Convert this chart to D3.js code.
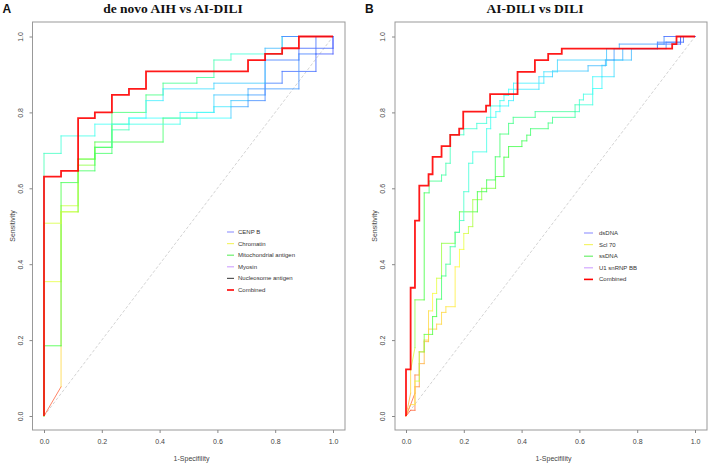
<!DOCTYPE html>
<html>
<head>
<meta charset="utf-8">
<script src="https://cdn.jsdelivr.net/npm/d3@7/dist/d3.min.js"></script>
<style>
  body { margin: 0; background: #fff; }
  text { font-family: "Liberation Sans", Arial, sans-serif; }
</style>
</head>
<body>
<svg id="chart" width="709" height="465"></svg>
<script>
// tick values shared by both axes
const tickValues = [0, 0.2, 0.4, 0.6, 0.8, 1.0];

// legend entries per panel
const legendA = ["CENP B", "Chromatin", "Mitochondrial antigen", "Myosin", "Nucleosome antigen", "Combined"];
const legendB = ["dsDNA", "Scl 70", "ssDNA", "U1 snRNP BB", "Combined"];
const legendColorsA = ["#9a9cff", "#f4f46a", "#6cf06c", "#d2a8ff", "#555555", "#ff0000"];
const legendColorsB = ["#9a9cff", "#f4f46a", "#6cf06c", "#d2a8ff", "#ff0000"];

// ROC points: [1-specificity, sensitivity, cutoff (0 = low, 1 = high)]
const aCenpB = [[0,0,1],[0.059,0.077,0.95],[0.059,0.538,0.8],[0.118,0.538,0.7],[0.118,0.677,0.62],[0.176,0.677,0.58],[0.176,0.708,0.55],[0.235,0.708,0.5],[0.235,0.769,0.45],[0.294,0.769,0.4],[0.294,0.785,0.35],[0.647,0.785,0.25],[0.647,0.815,0.18],[0.706,0.815,0.14],[0.706,0.831,0.12],[0.765,0.831,0.1],[0.765,0.877,0.09],[0.824,0.877,0.08],[0.824,0.908,0.07],[0.941,0.908,0.06],[0.941,0.954,0.05],[1,0.954,0.04],[1,1,0.02]];
const aChromatin = [[0,0,0.8],[0,0.354,0.75],[0.059,0.354,0.72],[0.059,0.554,0.7],[0.118,0.554,0.68],[0.118,0.661,0.62],[0.176,0.661,0.6],[0.176,0.722,0.55],[0.412,0.722,0.5],[0.412,0.785,0.45],[0.529,0.785,0.4],[0.529,0.8,0.35],[0.588,0.8,0.3],[0.588,0.815,0.25],[0.647,0.815,0.22],[0.647,0.831,0.2],[0.706,0.831,0.17],[0.706,0.846,0.15],[0.765,0.846,0.12],[0.765,0.938,0.1],[0.882,0.938,0.08],[0.882,0.969,0.06],[1,0.969,0.05],[1,1,0.03]];
const aMito = [[0,0,0.55],[0,0.185,0.52],[0.059,0.185,0.5],[0.059,0.615,0.5],[0.118,0.615,0.48],[0.118,0.646,0.47],[0.176,0.646,0.46],[0.176,0.692,0.45],[0.235,0.692,0.45],[0.235,0.8,0.44],[0.353,0.8,0.43],[0.353,0.846,0.42],[0.412,0.846,0.42],[0.412,0.877,0.41],[0.529,0.877,0.4],[0.529,0.892,0.4],[0.588,0.892,0.38],[0.588,0.938,0.36],[0.647,0.938,0.34],[0.647,0.954,0.32],[0.824,0.954,0.3],[0.824,1,0.28],[1,1,0.1]];
const aMyosin = [[0,0,0.75],[0,0.508,0.72],[0.059,0.508,0.7],[0.059,0.538,0.68],[0.118,0.538,0.66],[0.118,0.677,0.6],[0.176,0.677,0.55],[0.176,0.708,0.5],[0.235,0.708,0.45],[0.235,0.754,0.4],[0.294,0.754,0.35],[0.294,0.769,0.3],[0.471,0.769,0.28],[0.471,0.8,0.26],[0.588,0.8,0.24],[0.588,0.846,0.2],[0.706,0.846,0.17],[0.706,0.862,0.15],[0.882,0.862,0.12],[0.882,0.954,0.1],[0.941,0.954,0.08],[0.941,1,0.06],[1,1,0.04]];
const aNucleosome = [[0,0,0.35],[0,0.692,0.35],[0.059,0.692,0.33],[0.059,0.738,0.3],[0.176,0.738,0.28],[0.176,0.769,0.27],[0.294,0.769,0.26],[0.294,0.785,0.25],[0.353,0.785,0.25],[0.353,0.831,0.24],[0.412,0.831,0.23],[0.412,0.862,0.22],[0.588,0.862,0.21],[0.588,0.877,0.2],[0.765,0.877,0.18],[0.765,0.969,0.17],[0.824,0.969,0.16],[0.824,1,0.15],[1,1,0.1]];
const aCombined = [[0,0],[0,0.631],[0.059,0.631],[0.059,0.646],[0.118,0.646],[0.118,0.785],[0.176,0.785],[0.176,0.8],[0.235,0.8],[0.235,0.846],[0.294,0.846],[0.294,0.862],[0.353,0.862],[0.353,0.908],[0.706,0.908],[0.706,0.938],[0.765,0.938],[0.765,0.954],[0.824,0.954],[0.824,0.969],[0.882,0.969],[0.882,1],[1,1]];

const bDsDNA = [[0,0,0.9],[0.016,0.06,0.85],[0.016,0.12,0.8],[0.031,0.18,0.7],[0.031,0.306,0.6],[0.063,0.306,0.55],[0.063,0.588,0.5],[0.08,0.588,0.45],[0.08,0.619,0.42],[0.123,0.619,0.4],[0.123,0.635,0.38],[0.138,0.635,0.37],[0.138,0.666,0.36],[0.153,0.666,0.35],[0.153,0.741,0.34],[0.2,0.741,0.33],[0.2,0.757,0.32],[0.245,0.757,0.31],[0.245,0.771,0.3],[0.279,0.771,0.3],[0.279,0.787,0.29],[0.293,0.787,0.29],[0.293,0.817,0.28],[0.325,0.817,0.28],[0.325,0.831,0.27],[0.339,0.831,0.27],[0.339,0.845,0.26],[0.355,0.845,0.26],[0.355,0.861,0.25],[0.372,0.861,0.25],[0.372,0.877,0.24],[0.477,0.877,0.23],[0.477,0.907,0.22],[0.524,0.907,0.21],[0.524,0.938,0.2],[0.694,0.938,0.19],[0.694,0.968,0.17],[0.738,0.968,0.16],[0.738,0.98,0.15],[0.893,0.98,0.12],[0.893,1,0.1],[1,1,0.05]];
const bScl70 = [[0,0,1],[0.016,0.03,0.98],[0.031,0.06,0.95],[0.031,0.108,0.92],[0.046,0.108,0.9],[0.046,0.169,0.88],[0.063,0.169,0.86],[0.063,0.196,0.85],[0.078,0.196,0.84],[0.078,0.229,0.83],[0.106,0.229,0.82],[0.106,0.242,0.81],[0.123,0.242,0.8],[0.123,0.273,0.8],[0.138,0.273,0.8],[0.138,0.288,0.79],[0.17,0.288,0.78],[0.17,0.393,0.77],[0.185,0.393,0.76],[0.185,0.439,0.75],[0.2,0.439,0.74],[0.2,0.481,0.72],[0.216,0.481,0.7],[0.216,0.499,0.68],[0.231,0.499,0.66],[0.231,0.57,0.64],[0.262,0.57,0.62],[0.262,0.6,0.6],[0.31,0.6,0.58],[0.31,0.631,0.55],[0.339,0.631,0.52],[0.339,0.682,0.5],[0.355,0.682,0.5],[0.355,0.71,0.5],[0.401,0.71,0.49],[0.401,0.725,0.48],[0.418,0.725,0.47],[0.418,0.74,0.46],[0.431,0.74,0.45],[0.431,0.757,0.44],[0.492,0.757,0.43],[0.492,0.772,0.42],[0.507,0.772,0.41],[0.507,0.787,0.4],[0.585,0.787,0.38],[0.585,0.802,0.36],[0.6,0.802,0.34],[0.6,0.82,0.32],[0.646,0.82,0.3],[0.646,0.863,0.28],[0.678,0.863,0.26],[0.678,0.894,0.24],[0.72,0.894,0.22],[0.72,0.938,0.2],[0.78,0.938,0.18],[0.78,0.968,0.16],[0.9,0.968,0.12],[0.9,0.985,0.1],[0.96,0.985,0.08],[0.96,1,0.05],[1,1,0.03]];
const bSsDNA = [[0,0,1],[0.016,0.015,0.98],[0.031,0.015,0.95],[0.031,0.077,0.92],[0.046,0.077,0.9],[0.046,0.138,0.88],[0.063,0.138,0.86],[0.063,0.2,0.84],[0.078,0.2,0.82],[0.078,0.277,0.8],[0.092,0.277,0.78],[0.092,0.323,0.76],[0.106,0.323,0.74],[0.106,0.363,0.72],[0.123,0.363,0.68],[0.123,0.455,0.62],[0.17,0.455,0.6],[0.17,0.484,0.58],[0.185,0.484,0.56],[0.185,0.538,0.54],[0.247,0.538,0.52],[0.247,0.591,0.5],[0.279,0.591,0.49],[0.279,0.622,0.48],[0.309,0.622,0.47],[0.309,0.683,0.46],[0.325,0.683,0.45],[0.325,0.743,0.44],[0.355,0.743,0.43],[0.355,0.771,0.42],[0.371,0.771,0.41],[0.371,0.787,0.4],[0.447,0.787,0.4],[0.447,0.802,0.39],[0.585,0.802,0.38],[0.585,0.82,0.36],[0.6,0.82,0.34],[0.6,0.833,0.32],[0.614,0.833,0.3],[0.614,0.848,0.29],[0.646,0.848,0.28],[0.646,0.894,0.26],[0.678,0.894,0.24],[0.678,0.924,0.22],[0.694,0.924,0.21],[0.694,0.938,0.2],[0.75,0.938,0.18],[0.75,0.968,0.15],[0.87,0.968,0.12],[0.87,0.985,0.1],[0.95,0.985,0.08],[0.95,1,0.06],[1,1,0.03]];
const bU1snRNP = [[0,0,0.9],[0.016,0.03,0.85],[0.031,0.03,0.8],[0.031,0.092,0.75],[0.046,0.092,0.7],[0.046,0.169,0.66],[0.063,0.169,0.62],[0.063,0.215,0.58],[0.092,0.215,0.55],[0.092,0.262,0.52],[0.106,0.262,0.5],[0.106,0.308,0.48],[0.123,0.308,0.46],[0.123,0.369,0.44],[0.138,0.369,0.42],[0.138,0.4,0.4],[0.153,0.4,0.39],[0.153,0.446,0.38],[0.17,0.446,0.37],[0.17,0.484,0.36],[0.185,0.484,0.35],[0.185,0.515,0.34],[0.2,0.515,0.33],[0.2,0.591,0.32],[0.217,0.591,0.31],[0.217,0.666,0.3],[0.231,0.666,0.3],[0.231,0.696,0.29],[0.279,0.696,0.28],[0.279,0.757,0.28],[0.293,0.757,0.27],[0.293,0.787,0.27],[0.311,0.787,0.26],[0.311,0.802,0.26],[0.325,0.802,0.25],[0.325,0.817,0.25],[0.355,0.817,0.24],[0.355,0.831,0.24],[0.372,0.831,0.23],[0.372,0.861,0.23],[0.46,0.861,0.22],[0.46,0.894,0.21],[0.507,0.894,0.2],[0.507,0.909,0.19],[0.63,0.909,0.18],[0.63,0.923,0.17],[0.69,0.923,0.16],[0.69,0.938,0.15],[0.72,0.938,0.14],[0.72,0.968,0.12],[0.87,0.968,0.1],[0.87,0.98,0.08],[0.95,0.98,0.06],[0.95,1,0.04],[1,1,0.02]];
const bCombined = [[0,0],[0,0.123],[0.016,0.123],[0.016,0.338],[0.031,0.338],[0.031,0.515],[0.046,0.515],[0.046,0.607],[0.078,0.607],[0.078,0.637],[0.092,0.637],[0.092,0.683],[0.123,0.683],[0.123,0.711],[0.153,0.711],[0.153,0.741],[0.184,0.741],[0.184,0.757],[0.198,0.757],[0.198,0.802],[0.277,0.802],[0.277,0.818],[0.291,0.818],[0.291,0.848],[0.386,0.848],[0.386,0.907],[0.446,0.907],[0.446,0.938],[0.492,0.938],[0.492,0.954],[0.539,0.954],[0.539,0.968],[0.921,0.968],[0.921,0.98],[0.936,0.98],[0.936,1],[1,1]];

const svg = d3.select("#chart");

// rainbow colouring by cutoff, like ROCR colorize: high cutoff red, low cutoff blue
const cutColor = t => d3.hsl(240 * (1 - t), 1, 0.65).formatHex();

//panel layout
const panels = [
    { letter: "A", title: "de novo AIH vs AI-DILI", box: [32.5, 345], xr: [44, 333], titleX: 173,
      curves: [aCenpB, aChromatin, aMito, aMyosin, aNucleosome], combined: aCombined,
      legend: legendA, legendColors: legendColorsA, legX: 227, legY: 232, legLine: 7 },
    { letter: "B", title: "AI-DILI vs DILI", box: [395, 707], xr: [406, 695], titleX: 535,
      curves: [bScl70, bSsDNA, bU1snRNP, bDsDNA], combined: bCombined,
      legend: legendB, legendColors: legendColorsB, legX: 584, legY: 233, legLine: 9 }
];

const boxTop = 22, boxBottom = 430;

panels.forEach(p => {
    const x = d3.scaleLinear().domain([0, 1]).range(p.xr);
    const y = d3.scaleLinear().domain([0, 1]).range([416, 36.5]);
    const g = svg.append("g");

    // panel letter and title
    g.append("text").attr("x", p.box[0] - 30).attr("y", 13)
        .style("font-weight", "bold").style("font-size", "12px").attr("fill", "#111").text(p.letter);
    g.append("text").attr("x", p.titleX).attr("y", 13).attr("text-anchor", "middle")
        .style("font-family", "'Liberation Serif', 'Times New Roman', serif")
        .style("font-weight", "bold").style("font-size", "13.5px").attr("fill", "#111").text(p.title);

    // chance line
    g.append("line").attr("x1", x(0)).attr("y1", y(0)).attr("x2", x(1)).attr("y2", y(1))
        .attr("stroke", "#c8c8c8").attr("stroke-width", 0.8).attr("stroke-dasharray", "3,2");

    // coloured ROC curves, one segment at a time
    p.curves.forEach(c => {
        g.append("g").selectAll("line")
            .data(d3.pairs(c))
            .join("line")
            .attr("x1", d => x(d[0][0])).attr("y1", d => y(d[0][1]))
            .attr("x2", d => x(d[1][0])).attr("y2", d => y(d[1][1]))
            .attr("stroke", d => cutColor(d[1][2]))
            .attr("stroke-width", 1)
            .attr("stroke-linecap", "square")
            .attr("opacity", 0.85);
    });

    // combined model on top
    g.append("path").datum(p.combined)
        .attr("d", d3.line().x(d => x(d[0])).y(d => y(d[1])))
        .attr("fill", "none").attr("stroke", "#ff0000").attr("stroke-width", 1.8).attr("opacity", 0.9);

    // frame
    g.append("rect").attr("x", p.box[0]).attr("y", boxTop)
        .attr("width", p.box[1] - p.box[0]).attr("height", boxBottom - boxTop)
        .attr("fill", "none").attr("stroke", "#999").attr("stroke-width", 1);

    // axes
    const xAxis = g.append("g").attr("transform", `translate(0,${boxBottom})`)
        .call(d3.axisBottom(x).tickValues(tickValues).tickSize(3).tickPadding(6).tickFormat(d3.format(".1f")));
    const yAxis = g.append("g").attr("transform", `translate(${p.box[0]},0)`)
        .call(d3.axisLeft(y).tickValues(tickValues).tickSize(3).tickFormat(d3.format(".1f")));
    [xAxis, yAxis].forEach(a => {
        a.select(".domain").remove();
        a.selectAll("line").attr("stroke", "#888");
        a.selectAll("text").attr("fill", "#444").style("font-size", "7px");
    });
    yAxis.selectAll("text")
        .attr("x", 0).attr("dy", 0).attr("text-anchor", "middle")
        .attr("transform", "translate(-10,0) rotate(-90)");

    // axis titles
    g.append("text").attr("x", (p.xr[0] + p.xr[1]) / 2 + 3).attr("y", 461).attr("text-anchor", "middle")
        .attr("fill", "#444").style("font-size", "7px").text("1-Specifility");
    g.append("text").attr("transform", `translate(${p.box[0] - 18},226) rotate(-90)`)
        .attr("text-anchor", "middle").attr("fill", "#444").style("font-size", "7px").text("Sensitivity");

    // legend
    const leg = g.append("g").selectAll("g").data(p.legend).join("g")
        .attr("transform", (d, i) => `translate(${p.legX},${p.legY + i * 11.6})`);
    leg.append("line").attr("x1", 0).attr("x2", p.legLine)
        .attr("stroke", (d, i) => p.legendColors[i])
        .attr("stroke-width", (d, i) => d === "Combined" ? 1.6 : 1.2);
    leg.append("text").attr("x", p.legLine + (p.legLine > 8 ? 6 : 4)).attr("dy", "0.32em")
        .attr("fill", "#333").style("font-size", "6px").text(d => d);
});
</script>
</body>
</html>
